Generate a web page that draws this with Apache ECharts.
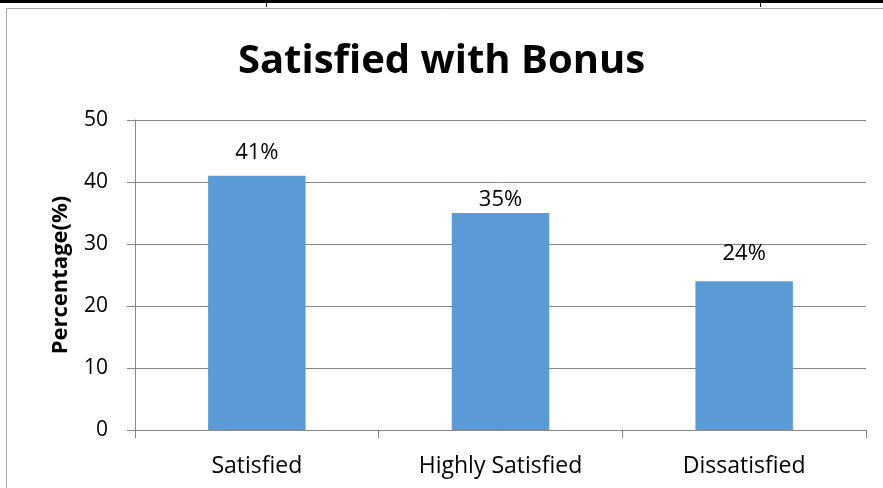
<!DOCTYPE html>
<html>
<head>
<meta charset="utf-8">
<script src="https://cdn.jsdelivr.net/npm/echarts@6/dist/echarts.min.js"></script>
<style>
    html, body {margin: 0; padding: 0; background: #fff;}
    #chart {width: 883px; height: 488px;}
</style>
</head>
<body>
<div id="chart"></div>
<script>
var categories = ["Satisfied", "Highly Satisfied", "Dissatisfied"];
var percentValues = [41, 35, 24];
var yTicks = [0, 10, 20, 30, 40, 50];

var labelGap = [12, 2, 16]; // excel puts the labels at uneven heights

var myChart = echarts.init(document.getElementById("chart"));
var fontName = "Open Sans";

var barData = [];
for (var i = 0; i < percentValues.length; i++) {
    barData.push({value: percentValues[i], label: {distance: labelGap[i]}});
}

var option = {
    animation: false,
    title: {
        text: "Satisfied with Bonus",
        left: "center",
        top: 37,
        textStyle: {fontFamily: fontName, fontSize: 40, fontWeight: "bold", color: "#000"}
    },
    grid: {
        left: 135,
        right: 17,
        top: 120,
        bottom: 58
    },
    xAxis: {
        type: "category",
        data: categories,
        axisLine: {lineStyle: {color: "#868686", width: 1}},
        axisTick: {show: true, length: 8, lineStyle: {color: "#868686"}},
        axisLabel: {fontFamily: fontName, fontSize: 23, color: "#000", margin: 25}
    },
    yAxis: {
        type: "value",
        min: yTicks[0],
        max: yTicks[yTicks.length - 1],
        interval: 10,
        name: "Percentage(%)",
        nameLocation: "middle",
        nameGap: 63,
        nameTextStyle: {fontFamily: fontName, fontSize: 22, fontWeight: "bold", color: "#000"},
        axisLine: {show: true, lineStyle: {color: "#868686"}},
        axisTick: {show: true, length: 8, lineStyle: {color: "#868686"}},
        axisLabel: {fontFamily: fontName, fontSize: 21, color: "#000", margin: 27},
        splitLine: {lineStyle: {color: "#868686"}}
    },
    graphic: [
        {type: "rect", shape: {x: 0, y: 0, width: 883, height: 3}, style: {fill: "#000"}},
        {type: "rect", shape: {x: 266, y: 3, width: 1, height: 4}, style: {fill: "#000"}},
        {type: "rect", shape: {x: 760, y: 3, width: 1, height: 4}, style: {fill: "#000"}},
        {type: "rect", shape: {x: 6.5, y: 8.5, width: 900, height: 500}, style: {fill: "none", stroke: "#a6a6a6", lineWidth: 1}}
    ],
    series: [
        {
            type: "bar",
            data: barData,
            barWidth: "40%",
            itemStyle: {color: "#5b9bd5"},
            label: {
                show: true,
                position: "top",
                formatter: "{c}%",
                fontFamily: fontName,
                fontSize: 22,
                color: "#000"
            }
        }
    ]
};

myChart.setOption(option);
</script>
</body>
</html>
